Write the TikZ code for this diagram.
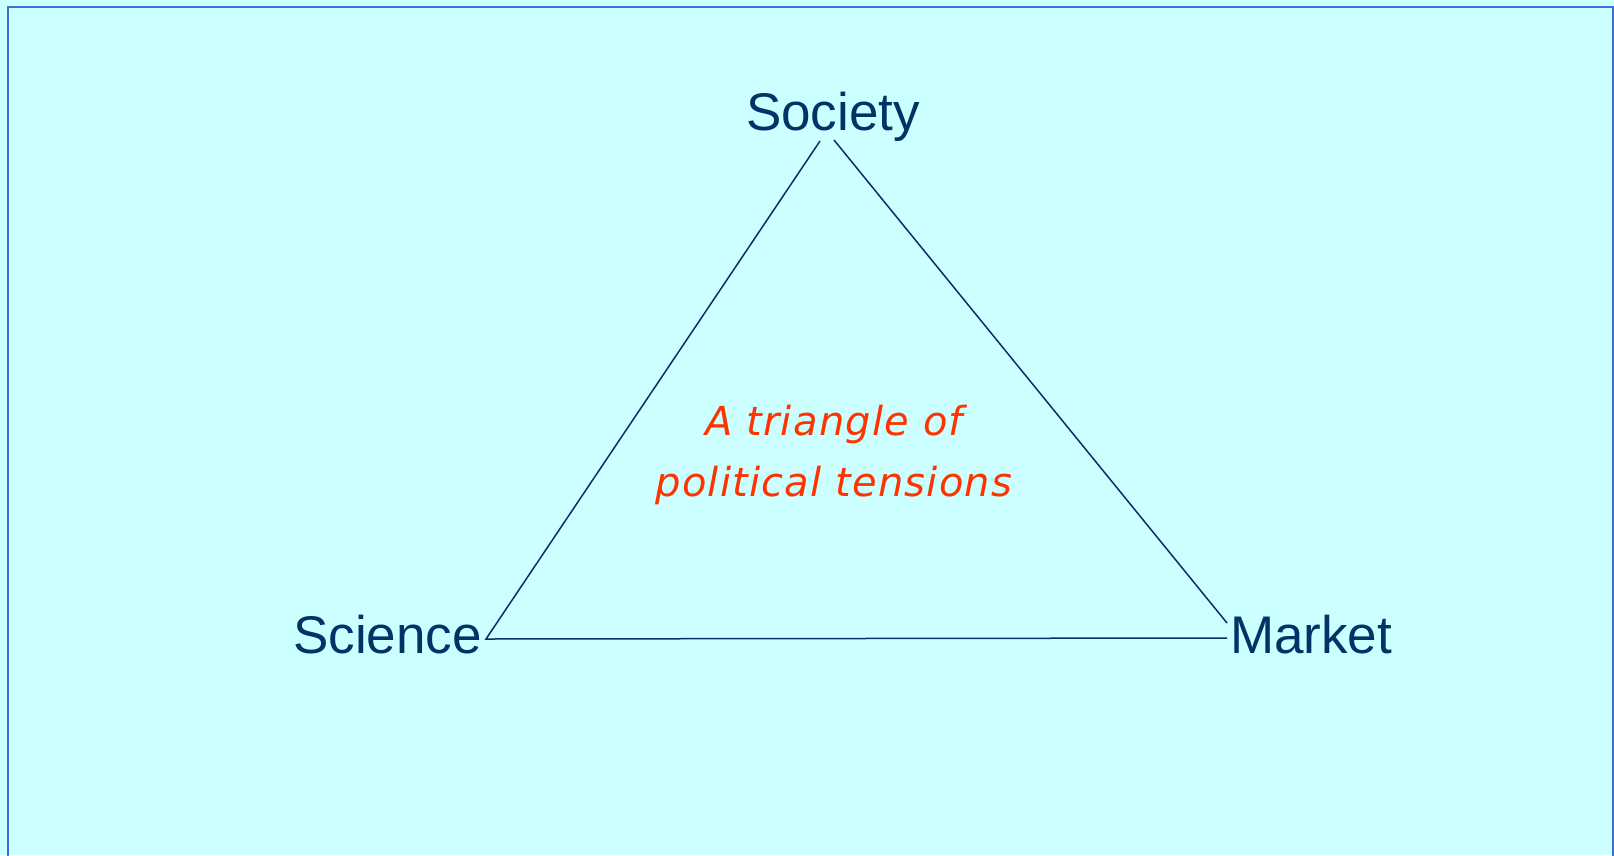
\documentclass[tikz,border=0pt]{standalone}
\usepackage{fontspec}
\setmainfont{Liberation Sans}
\newfontfamily\notefont[LetterSpace=3]{DejaVu Sans}
\definecolor{bgcyan}{HTML}{CCFFFF}
\definecolor{frameblue}{HTML}{3D6FD6}
\definecolor{navy}{HTML}{003366}
\definecolor{tension}{HTML}{FF3300}
\begin{document}
\begin{tikzpicture}[x=1pt,y=-1pt,
  corner/.style={font=\fontsize{53}{62}\selectfont, text=navy, inner sep=0pt},
  side/.style={draw=navy, line width=1.5pt},
  note/.style={font=\notefont\itshape\fontsize{40}{61}\selectfont, text=tension, align=center, inner sep=0pt}]
  % page and frame
  \fill[bgcyan] (0,0) rectangle (1614,855);
  \useasboundingbox (0,0) rectangle (1614,855);
  \draw[frameblue, line width=2.5pt] (8,880) -- (8,7) -- (1613,7) -- (1613,880);

  % labels at the three corners
  \node[corner, anchor=base] (society) at (833,130) {Society};
  \node[corner, anchor=base east] (science) at (482,653) {Science};
  \node[corner, anchor=base west] (market) at (1230,653) {Market};

  % triangle corners
  \coordinate (topL) at (820,141);
  \coordinate (topR) at (834,140);
  \coordinate (left) at (486,639);
  \coordinate (rightU) at (1227,623);
  \coordinate (rightB) at (1227,638);

  \draw[side] (topL) -- (left) -- (rightB);
  \draw[side] (topR) -- (rightU);

  % caption inside the triangle
  \node[note, anchor=base] (caption) at (834,496) {A triangle of\\political tensions};
\end{tikzpicture}
\end{document}
